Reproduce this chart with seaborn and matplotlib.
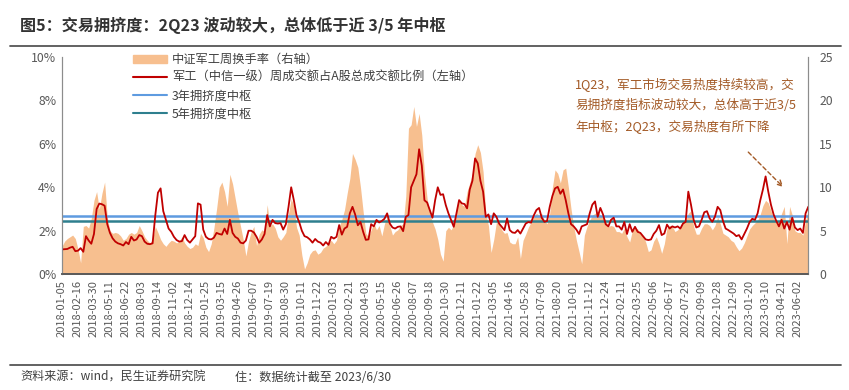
import numpy as np
import pandas as pd
import seaborn as sns
import matplotlib.pyplot as plt
from matplotlib.patches import Patch
from matplotlib.lines import Line2D

# 军工（中信一级）周成交额占A股总成交额比例（%，左轴）
share = [1.14,1.15,1.16,1.22,1.26,1.06,1.08,1.2,1.03,1.75,1.55,1.4,1.85,3.0,3.25,3.22,3.15,2.3,1.9,1.65,
         1.5,1.42,1.38,1.32,1.48,1.38,1.72,1.55,1.6,1.8,1.75,1.5,1.4,1.38,1.42,2.7,3.75,3.95,2.9,2.5,
         2.1,1.95,1.72,1.57,1.5,1.52,1.8,1.57,1.45,1.6,1.75,3.26,3.2,2.05,1.72,1.62,1.6,
         1.68,1.9,1.85,1.82,2.1,1.85,2.5,1.9,1.72,1.64,1.45,1.42,1.55,2.0,2.0,1.92,1.72,1.45,1.6,1.85,
         2.72,2.2,2.5,2.35,2.33,2.35,2.05,2.3,3.1,4.0,3.4,2.7,2.4,2.0,1.75,1.7,1.6,1.45,1.62,1.5,
         1.45,1.32,1.48,1.35,1.72,1.64,1.72,2.26,1.82,2.1,2.18,2.8,3.1,2.75,2.25,2.4,1.95,
         1.58,1.6,2.3,2.2,2.5,2.38,2.45,2.55,2.8,2.33,2.15,2.1,2.18,2.2,1.98,2.64,2.72,4.0,4.3,4.6,
         5.75,5.0,3.4,3.3,2.95,2.6,3.4,4.0,3.65,3.68,3.18,2.8,2.49,2.18,2.8,3.41,3.26,3.23,3.03,3.9,
         4.3,5.33,5.1,4.3,3.8,2.64,2.75,2.3,2.8,2.64,2.33,2.18,2.03,2.57,2.03,1.92,1.9,
         2.03,1.87,2.1,2.33,2.4,2.37,2.7,2.95,3.05,2.6,2.41,2.45,3.1,3.6,3.95,4.02,3.7,3.9,3.41,2.8,
         2.3,2.2,2.05,1.85,2.2,2.25,2.3,2.8,3.2,3.35,2.64,3.05,2.75,2.3,2.2,2.5,2.6,2.2,2.2,2.05,
         2.4,1.85,2.3,1.95,2.18,1.95,1.9,1.75,1.6,1.57,1.6,1.85,2.0,2.26,1.8,1.87,
         2.28,2.1,2.2,2.15,2.2,2.1,2.33,2.41,3.8,3.2,2.5,2.15,2.2,2.5,2.85,2.9,2.57,2.41,2.65,3.1,
         2.95,2.45,2.1,2.03,1.95,1.87,1.75,1.8,1.6,1.85,2.1,2.4,2.55,2.5,2.8,3.4,3.9,4.5,3.8,3.2,
         2.75,2.45,2.2,2.5,2.1,2.4,2.05,2.6,2.15,2.03,2.1,1.9,2.8,3.1]

# 中证军工周换手率（%，右轴）
turnover = [3.2,3.8,4.1,4.3,4.5,4.1,2.9,1.3,5.5,5.6,5.3,6.4,8.5,9.5,7.5,9.3,10.6,6.5,5.0,4.7,
            4.8,4.7,4.4,3.9,4.1,4.6,4.8,4.6,4.8,5.6,5.0,4.3,3.9,3.6,4.0,5.5,4.8,4.0,3.5,3.2,
            3.6,3.9,3.8,3.6,3.8,4.3,3.6,3.2,2.95,3.1,3.5,3.3,4.7,4.2,3.1,2.6,3.5,
            5.3,7.5,10.0,10.6,9.5,7.8,11.5,10.4,8.7,7.0,5.5,4.0,2.1,3.8,4.9,5.5,3.3,4.6,5.1,4.9,
            8.0,5.6,5.8,5.3,4.3,3.9,4.3,4.8,7.0,8.7,7.8,5.4,4.5,2.2,0.6,1.3,2.3,2.7,2.8,2.3,
            2.5,3.0,3.2,3.6,3.9,3.5,3.9,5.5,6.3,7.4,9.3,11.0,13.9,13.2,12.3,10.0,7.2,
            4.7,4.3,5.1,5.9,5.1,5.6,4.4,5.8,6.6,5.6,4.5,4.9,5.1,5.6,5.8,9.0,16.8,17.2,19.3,17.0,
            18.5,16.0,11.5,8.7,7.0,6.0,5.2,4.0,2.3,1.5,5.0,5.4,5.1,5.7,7.4,8.5,8.0,7.8,9.5,10.5,
            11.6,13.9,14.9,14.0,11.8,7.0,5.6,2.5,4.0,6.0,5.8,5.1,4.7,4.8,3.7,3.5,3.5,
            4.3,1.8,3.9,4.6,5.4,6.0,6.6,7.0,6.8,7.0,6.2,5.8,7.0,10.0,12.0,11.6,10.5,12.0,12.2,10.0,
            7.5,5.5,3.9,2.6,1.2,4.5,5.5,6.2,6.8,7.0,7.2,6.8,6.6,6.2,5.5,5.6,5.5,4.9,4.9,4.7,
            5.3,4.3,3.7,5.0,5.3,5.2,4.6,4.4,3.7,2.6,2.8,3.8,4.3,3.5,2.4,3.5,
            5.3,5.6,5.5,4.9,5.1,5.5,6.0,6.2,7.0,7.3,5.5,4.6,4.6,5.3,5.8,5.8,5.6,5.1,5.6,6.6,
            5.8,4.7,4.5,4.3,3.9,3.7,3.15,2.7,3.0,3.6,4.4,5.2,5.6,5.9,6.2,6.9,7.9,8.5,8.2,7.3,
            6.4,6.0,6.1,7.0,7.8,3.5,7.8,6.8,5.0,4.8,4.8,4.5,6.2,7.4]

center_3y = 2.69
center_5y = 2.44

tick_labels = ["2018-01-05","2018-02-16","2018-03-30","2018-05-11","2018-06-22","2018-08-03",
               "2018-09-14","2018-11-02","2018-12-14","2019-01-25","2019-03-15","2019-04-26",
               "2019-06-07","2019-07-19","2019-08-30","2019-10-11","2019-11-22","2020-01-03",
               "2020-02-21","2020-04-03","2020-05-15","2020-06-26","2020-08-07","2020-09-18",
               "2020-10-30","2020-12-11","2021-01-22","2021-03-05","2021-04-16","2021-05-28",
               "2021-07-09","2021-08-20","2021-10-01","2021-11-12","2021-12-24","2022-02-11",
               "2022-03-25","2022-05-06","2022-06-17","2022-07-29","2022-09-09","2022-10-28",
               "2022-12-09","2023-01-20","2023-03-10","2023-04-21","2023-06-02"]

df = pd.DataFrame({"idx": np.arange(len(share)), "share": share, "turnover": turnover})

sns.set_style("white")
plt.rcParams["font.family"] = ["Noto Sans CJK SC", "DejaVu Sans"]

fig = plt.figure(figsize=(8.49, 3.9), dpi=100)
ax = fig.add_axes([0.073, 0.297, 0.879, 0.557])
ax2 = ax.twinx()

c_area = "#F7BF8F"
c_red = "#C00000"
c_3y = "#5E9BE0"
c_5y = "#2E7F8E"
grey = "#595959"

ax2.fill_between(df["idx"], 0, df["turnover"], color=c_area, lw=0)
ax2.set_ylim(0, 25)
ax2.set_yticks(range(0, 26, 5))
ax2.set_yticklabels([str(v) for v in range(0, 26, 5)], fontsize=8.8, color=grey)

ax.set_zorder(ax2.get_zorder() + 1)
ax.patch.set_visible(False)
ax.axhline(center_3y, color=c_3y, lw=1.8)
ax.axhline(center_5y, color=c_5y, lw=1.8)
sns.lineplot(data=df, x="idx", y="share", ax=ax, color=c_red, lw=1.3)

ax.set_ylim(0, 10)
ax.set_yticks(range(0, 11, 2))
ax.set_yticklabels([f"{v}%" for v in range(0, 11, 2)], fontsize=8.8, color=grey)
ax.set_xlim(0, len(share) - 1)
ax.set_xticks(range(0, 6 * len(tick_labels), 6))
ax.set_xticklabels(tick_labels, rotation=90, fontsize=8, color=grey)
ax.set_xlabel("")
ax.set_ylabel("")
ax.tick_params(length=0, pad=4)
ax2.tick_params(length=0, pad=8)

for a in (ax, ax2):
    a.spines["top"].set_visible(False)
    a.spines["left"].set_color("#8c8c8c")
    a.spines["right"].set_color("#8c8c8c")
    a.spines["bottom"].set_color(grey)
    a.spines["bottom"].set_linewidth(1.2)

handles = [Patch(color=c_area),
           Line2D([], [], color=c_red, lw=1.5),
           Line2D([], [], color=c_3y, lw=1.5),
           Line2D([], [], color=c_5y, lw=1.5)]
labels = ["中证军工周换手率（右轴）", "军工（中信一级）周成交额占A股总成交额比例（左轴）",
          "3年拥挤度中枢", "5年拥挤度中枢"]
ax.legend(handles, labels, loc="upper left", bbox_to_anchor=(0.088, 1.04), frameon=False,
          fontsize=8.8, handlelength=2.8, handletextpad=0.4, labelspacing=0.42, borderaxespad=0,
          labelcolor="#404040")

ax.text(0.688, 0.905, "1Q23，军工市场交易热度持续较高，交\n易拥挤度指标波动较大，总体高于近3/5\n年中枢；2Q23，交易热度有所下降",
        transform=ax.transAxes, fontsize=9.1, color="#A35A26", va="top", ha="left", linespacing=1.75)
ax.annotate("", xy=(0.969, 0.392), xytext=(0.917, 0.571), xycoords="axes fraction",
            arrowprops=dict(arrowstyle="->", linestyle=(0, (3, 2)), color="#A35A26", lw=1))

fig.text(0.024, 0.936, "图5：交易拥挤度：2Q23 波动较大，总体低于近 3/5 年中枢", fontsize=11.6,
         fontweight="bold", color="#333333", va="center")
fig.add_artist(Line2D([0.012, 0.99], [0.882, 0.882], color="#555555", lw=1.3))
fig.add_artist(Line2D([0.012, 0.99], [0.064, 0.064], color="#555555", lw=1.3))
fig.text(0.024, 0.033, "资料来源：wind，民生证券研究院", fontsize=8.7, color="#404040", va="center")
fig.text(0.277, 0.033, "住：数据统计截至 2023/6/30", fontsize=8.7, color="#404040", va="center")

fig.savefig("out.png", dpi=100)
